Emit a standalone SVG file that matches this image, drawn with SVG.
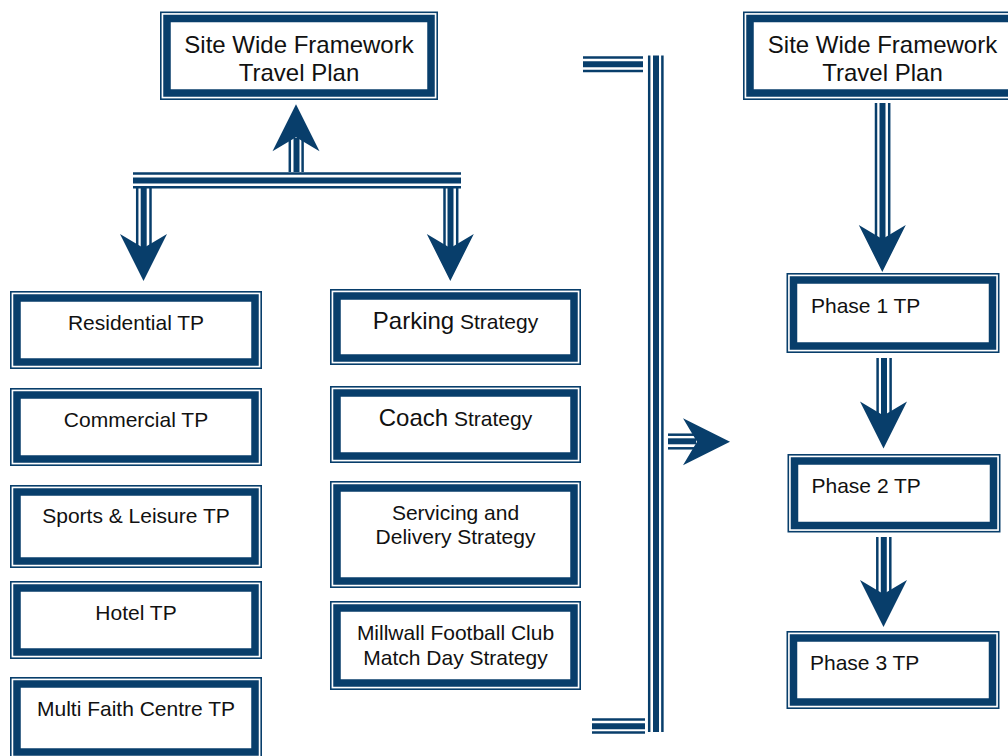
<svg xmlns="http://www.w3.org/2000/svg" xmlns:xlink="http://www.w3.org/1999/xlink" width="1008" height="756" viewBox="0 0 1008 756">
<style>
.thin{fill:none;stroke:#083e6b;stroke-width:1.6}
.thick{fill:#fff;stroke:#083e6b;stroke-width:7.5}
.t{font-family:"Liberation Sans",Arial,sans-serif;font-size:21px;fill:#111;text-anchor:middle}
.big{font-size:24px}
.l{text-anchor:start}
.ln{stroke:#083e6b;fill:none}
.s1{stroke-width:2.5}
.s2{stroke-width:6}
.head{fill:#083e6b}
</style>
<defs>
<path id="head" d="M0,0 L-23.5,-47 L0,-33 L23.5,-47 Z"/>
</defs>
<rect width="1008" height="756" fill="#fff"/>

<g id="connectors">
  <!-- horizontal bar -->
  <g class="ln">
    <line class="s1" x1="133" y1="173.6" x2="461" y2="173.6"/>
    <line class="s2" x1="133" y1="180.5" x2="461" y2="180.5"/>
    <line class="s1" x1="133" y1="187.3" x2="461" y2="187.3"/>
  </g>
  <!-- up arrow to top box -->
  <g class="ln">
    <line class="s1" x1="289.8" y1="172" x2="289.8" y2="138"/>
    <line class="s2" x1="296.5" y1="172" x2="296.5" y2="138"/>
    <line class="s1" x1="302.6" y1="172" x2="302.6" y2="138"/>
  </g>
  <use href="#head" class="head" transform="translate(296,104.3) rotate(180)"/>
  <!-- left down arrow -->
  <g class="ln">
    <line class="s1" x1="137.2" y1="188" x2="137.2" y2="249"/>
    <line class="s2" x1="143.7" y1="188" x2="143.7" y2="249"/>
    <line class="s1" x1="150.5" y1="188" x2="150.5" y2="249"/>
  </g>
  <use href="#head" class="head" transform="translate(143.5,281)"/>
  <!-- middle down arrow -->
  <g class="ln">
    <line class="s1" x1="444.5" y1="188" x2="444.5" y2="249"/>
    <line class="s2" x1="450.5" y1="188" x2="450.5" y2="249"/>
    <line class="s1" x1="457.2" y1="188" x2="457.2" y2="249"/>
  </g>
  <use href="#head" class="head" transform="translate(450.3,281)"/>
  <!-- bracket -->
  <g class="ln">
    <line class="s1" x1="649.2" y1="55.5" x2="649.2" y2="732"/>
    <line class="s2" x1="656" y1="55.5" x2="656" y2="732"/>
    <line class="s1" x1="662.4" y1="55.5" x2="662.4" y2="732"/>
    <line class="s1" x1="583" y1="57.4" x2="643" y2="57.4"/>
    <line class="s2" x1="583" y1="64.3" x2="643" y2="64.3"/>
    <line class="s1" x1="583" y1="71" x2="643" y2="71"/>
    <line class="s1" x1="592" y1="719.5" x2="645" y2="719.5"/>
    <line class="s2" x1="592" y1="726.2" x2="645" y2="726.2"/>
    <line class="s1" x1="592" y1="732.5" x2="645" y2="732.5"/>
  </g>
  <!-- right arrow -->
  <g class="ln">
    <line class="s1" x1="668" y1="434.7" x2="696" y2="434.7"/>
    <line class="s2" x1="668" y1="441.3" x2="696" y2="441.3"/>
    <line class="s1" x1="668" y1="448.3" x2="696" y2="448.3"/>
  </g>
  <use href="#head" class="head" transform="translate(730,441.7) rotate(-90)"/>
  <!-- right column arrows -->
  <g class="ln">
    <line class="s1" x1="876" y1="103" x2="876" y2="241"/>
    <line class="s2" x1="882.5" y1="103" x2="882.5" y2="241"/>
    <line class="s1" x1="889.2" y1="103" x2="889.2" y2="241"/>
  </g>
  <use href="#head" class="head" transform="translate(882.3,272)"/>
  <g class="ln">
    <line class="s1" x1="877.6" y1="358" x2="877.6" y2="418"/>
    <line class="s2" x1="884" y1="358" x2="884" y2="418"/>
    <line class="s1" x1="890.6" y1="358" x2="890.6" y2="418"/>
  </g>
  <use href="#head" class="head" transform="translate(883.5,448.5)"/>
  <g class="ln">
    <line class="s1" x1="877.3" y1="537" x2="877.3" y2="597"/>
    <line class="s2" x1="883.8" y1="537" x2="883.8" y2="597"/>
    <line class="s1" x1="890.3" y1="537" x2="890.3" y2="597"/>
  </g>
  <use href="#head" class="head" transform="translate(883.5,627)"/>
</g>

<g id="site-left">
  <rect class="thin" x="160.8" y="12.3" width="276.4" height="86.9"/>
  <rect class="thick" x="167" y="18.5" width="264" height="74.5"/>
  <text class="t big" x="299" y="53">Site Wide Framework</text>
  <text class="t big" x="299" y="81">Travel Plan</text>
</g>
<g id="site-right">
  <rect class="thin" x="743.8" y="12.3" width="276.4" height="86.9"/>
  <rect class="thick" x="750" y="18.5" width="264" height="74.5"/>
  <text class="t big" x="882.5" y="53">Site Wide Framework</text>
  <text class="t big" x="882.5" y="81">Travel Plan</text>
</g>

<g id="residential">
  <rect class="thin" x="10.8" y="291.8" width="250.4" height="76.4"/>
  <rect class="thick" x="17" y="298" width="238" height="64"/>
  <text class="t" x="136" y="330">Residential TP</text>
</g>
<g id="commercial">
  <rect class="thin" x="10.8" y="388.8" width="250.4" height="76.4"/>
  <rect class="thick" x="17" y="395" width="238" height="64"/>
  <text class="t" x="136" y="427">Commercial TP</text>
</g>
<g id="sports">
  <rect class="thin" x="10.8" y="485.8" width="250.4" height="81.4"/>
  <rect class="thick" x="17" y="492" width="238" height="69"/>
  <text class="t" x="136" y="523">Sports &amp; Leisure TP</text>
</g>
<g id="hotel">
  <rect class="thin" x="10.8" y="581.8" width="250.4" height="76.4"/>
  <rect class="thick" x="17" y="588" width="238" height="64"/>
  <text class="t" x="136" y="620">Hotel TP</text>
</g>
<g id="multifaith">
  <rect class="thin" x="10.8" y="677.8" width="250.4" height="80.4"/>
  <rect class="thick" x="17" y="684" width="238" height="68"/>
  <text class="t" x="136" y="716">Multi Faith Centre TP</text>
</g>

<g id="parking">
  <rect class="thin" x="330.8" y="289.8" width="249.4" height="74.4"/>
  <rect class="thick" x="337" y="296" width="237" height="62"/>
  <text class="t" x="455.5" y="329"><tspan class="big">Parking</tspan> Strategy</text>
</g>
<g id="coach">
  <rect class="thin" x="330.8" y="386.8" width="249.4" height="75.4"/>
  <rect class="thick" x="337" y="393" width="237" height="63"/>
  <text class="t" x="455.5" y="426"><tspan class="big">Coach</tspan> Strategy</text>
</g>
<g id="servicing">
  <rect class="thin" x="330.8" y="481.8" width="249.4" height="105.4"/>
  <rect class="thick" x="337" y="488" width="237" height="93"/>
  <text class="t" x="455.5" y="520">Servicing and</text>
  <text class="t" x="455.5" y="544">Delivery Strategy</text>
</g>
<g id="millwall">
  <rect class="thin" x="330.8" y="601.8" width="249.4" height="87.4"/>
  <rect class="thick" x="337" y="608" width="237" height="75"/>
  <text class="t" x="455.5" y="640">Millwall Football Club</text>
  <text class="t" x="455.5" y="665">Match Day Strategy</text>
</g>

<g id="phase1">
  <rect class="thin" x="787.3" y="273.8" width="211.4" height="78.4"/>
  <rect class="thick" x="793.5" y="280" width="199" height="66"/>
  <text class="t l" x="811" y="313">Phase 1 TP</text>
</g>
<g id="phase2">
  <rect class="thin" x="788.3" y="454.8" width="211.4" height="76.9"/>
  <rect class="thick" x="794.5" y="461" width="199" height="64.5"/>
  <text class="t l" x="811.5" y="493">Phase 2 TP</text>
</g>
<g id="phase3">
  <rect class="thin" x="787.3" y="631.8" width="211.4" height="76.4"/>
  <rect class="thick" x="793.5" y="638" width="199" height="64"/>
  <text class="t l" x="810" y="670">Phase 3 TP</text>
</g>
</svg>
